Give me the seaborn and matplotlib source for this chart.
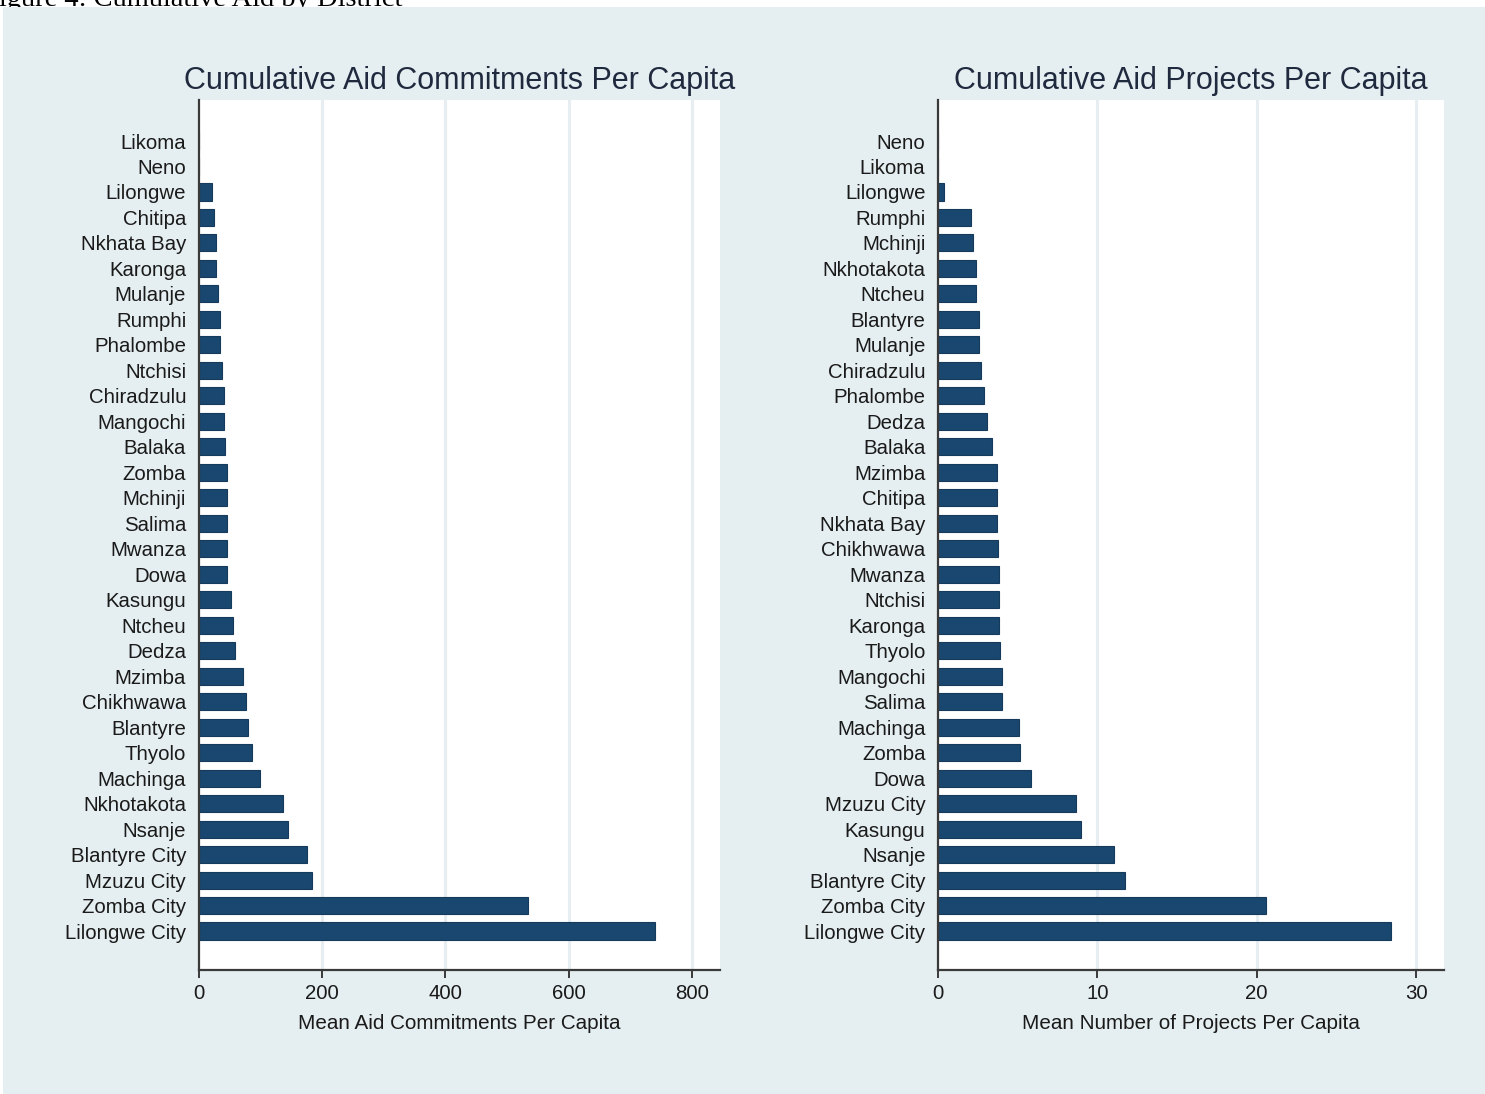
import matplotlib
matplotlib.use("Agg")
import matplotlib.pyplot as plt
from matplotlib.patches import Rectangle
import seaborn as sns

# Cumulative aid commitments per capita, by district (ascending)
aid_districts = [
    "Likoma", "Neno", "Lilongwe", "Chitipa", "Nkhata Bay", "Karonga", "Mulanje",
    "Rumphi", "Phalombe", "Ntchisi", "Chiradzulu", "Mangochi", "Balaka", "Zomba",
    "Mchinji", "Salima", "Mwanza", "Dowa", "Kasungu", "Ntcheu", "Dedza", "Mzimba",
    "Chikhwawa", "Blantyre", "Thyolo", "Machinga", "Nkhotakota", "Nsanje",
    "Blantyre City", "Mzuzu City", "Zomba City", "Lilongwe City",
]
aid_values = [
    0, 0, 22, 25, 27.5, 28, 32, 34.5, 34.6, 37, 40.5, 40.6, 43, 46,
    46.2, 46.3, 46.4, 46.5, 53, 55.6, 59, 71.3,
    77.3, 80.5, 86.5, 99, 136, 144.5,
    176, 183, 533, 740,
]

# Cumulative number of aid projects per capita, by district (ascending)
proj_districts = [
    "Neno", "Likoma", "Lilongwe", "Rumphi", "Mchinji", "Nkhotakota", "Ntcheu",
    "Blantyre", "Mulanje", "Chiradzulu", "Phalombe", "Dedza", "Balaka", "Mzimba",
    "Chitipa", "Nkhata Bay", "Chikhwawa", "Mwanza", "Ntchisi", "Karonga", "Thyolo",
    "Mangochi", "Salima", "Machinga", "Zomba", "Dowa", "Mzuzu City", "Kasungu",
    "Nsanje", "Blantyre City", "Zomba City", "Lilongwe City",
]
proj_values = [
    0, 0, 0.38, 2.08, 2.2, 2.4, 2.42, 2.55, 2.56, 2.7, 2.92, 3.07, 3.4, 3.68,
    3.69, 3.7, 3.8, 3.81, 3.82, 3.83, 3.9, 4.0, 4.02, 5.1, 5.12, 5.85, 8.65, 9.0,
    11.05, 11.75, 20.6, 28.45,
]

aid_ticks = [0, 200, 400, 600, 800]
proj_ticks = [0, 10, 20, 30]

BG = "#e5eef0"
GRID = "#e6eef1"
BAR = "#1a476f"
TEXT = "#1a1a1a"
TITLE = "#1f2a3f"

sns.set_theme(style="white")
plt.rcParams["font.family"] = ["Liberation Sans", "DejaVu Sans"]

W, H = 1485, 1094
fig = plt.figure(figsize=(W / 100, H / 100), dpi=100, facecolor="white")

# Caption strip along the top edge (mostly cut off)
fig.text(-17 / W, 1 - 6 / H, "Figure 4: Cumulative Aid by District",
         family=["Liberation Serif", "DejaVu Serif"], fontsize=20.5,
         color="black", va="baseline", ha="left", zorder=-2)
fig.add_artist(Rectangle((3 / W, 0), 1, 1 - 7 / H, transform=fig.transFigure,
                         facecolor=BG, edgecolor="none", zorder=-1))


def panel(left_px, right_px, districts, values, ticks, xmax, title, xlabel):
    top_px, bottom_px = 100, 970
    ax = fig.add_axes([left_px / W, 1 - bottom_px / H,
                       (right_px - left_px) / W, (bottom_px - top_px) / H])
    ax.set_facecolor("white")
    for t in ticks[1:]:
        ax.axvline(t, color=GRID, lw=2.2, zorder=0)
    sns.barplot(x=values, y=districts, ax=ax, orient="h", color=BAR,
                saturation=1, width=0.67, edgecolor="#163a5c", linewidth=0.8,
                zorder=2)
    n = len(districts)
    ax.set_ylim(n - 1 + 1.53, -1.61)
    ax.set_xlim(0, xmax)
    ax.set_xticks(ticks)
    ax.set_xticklabels([str(t) for t in ticks])
    for s in ["top", "right"]:
        ax.spines[s].set_visible(False)
    for s in ["left", "bottom"]:
        ax.spines[s].set_color("#3a3a3a")
        ax.spines[s].set_linewidth(1.6)
    ax.tick_params(axis="x", direction="out", length=6, width=1.4,
                   color="#3a3a3a", pad=4, labelsize=14.7, labelcolor=TEXT,
                   bottom=True)
    ax.tick_params(axis="y", length=0, pad=9, labelsize=14.7, labelcolor=TEXT)
    ax.set_ylabel("")
    ax.set_xlabel(xlabel, fontsize=14.9, color=TEXT, labelpad=8)
    ax.set_title(title, fontsize=22, color=TITLE, pad=8)
    ax.grid(False)
    return ax


panel(198.7, 720, aid_districts, aid_values, aid_ticks, 845,
      "Cumulative Aid Commitments Per Capita",
      "Mean Aid Commitments Per Capita")
panel(937.9, 1444, proj_districts, proj_values, proj_ticks, 31.75,
      "Cumulative Aid Projects Per Capita",
      "Mean Number of Projects Per Capita")

fig.savefig("out.png", dpi=100, facecolor=fig.get_facecolor())
